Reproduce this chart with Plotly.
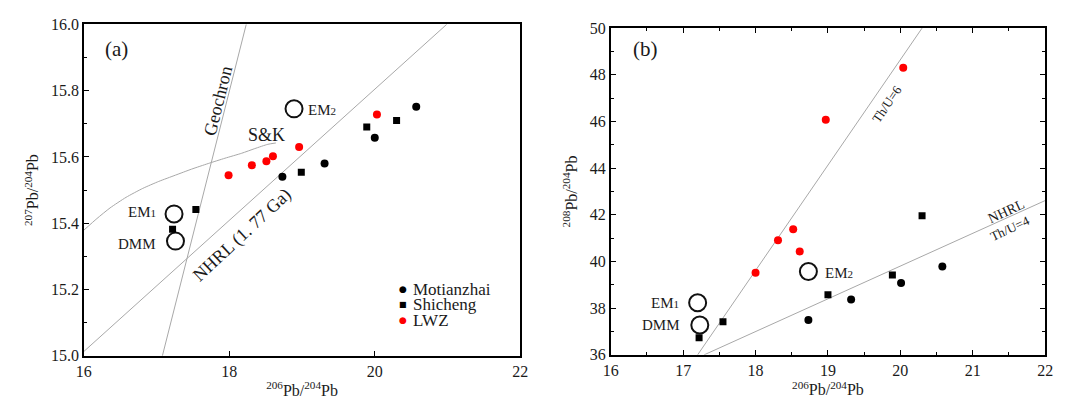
import plotly.graph_objects as go

FONT = "Liberation Serif"

# ---------------- Panel (a) data: 206Pb/204Pb vs 207Pb/204Pb ----------------
mot_x = [18.73, 19.31, 20.00, 20.57]
mot_y_a = [15.540, 15.580, 15.658, 15.751]
shi_x = [17.22, 17.54, 18.99, 19.89, 20.30]
shi_y_a = [15.382, 15.441, 15.554, 15.690, 15.710]
lwz_x = [17.99, 18.31, 18.51, 18.60, 18.96, 20.03]
lwz_y_a = [15.545, 15.575, 15.587, 15.602, 15.630, 15.728]

ref_names = ["EM1", "DMM", "EM2"]
ref_x_a = [17.24, 17.26, 18.89]
ref_y_a = [15.428, 15.346, 15.745]

geochron_x = [17.08, 18.233]
geochron_y = [15.0, 16.0]
nhrl_a_x = [16.0, 20.99]
nhrl_a_y = [15.013, 16.0]
sk_x = [16.0, 16.18, 16.36, 16.58, 16.81, 17.03, 17.26, 17.48, 17.71, 17.94, 18.17, 18.35, 18.53, 18.64]
sk_y = [15.379, 15.414, 15.446, 15.478, 15.505, 15.526, 15.545, 15.563, 15.580, 15.596, 15.611, 15.625, 15.638, 15.642]

# ---------------- Panel (b) data: 206Pb/204Pb vs 208Pb/204Pb ----------------
mot_x_b = [18.73, 19.32, 20.01, 20.58]
mot_y_b = [37.49, 38.37, 39.08, 39.78]
shi_x_b = [17.22, 17.55, 19.00, 19.89, 20.30]
shi_y_b = [36.73, 37.42, 38.57, 39.42, 41.96]
lwz_x_b = [18.00, 18.31, 18.52, 18.61, 18.97, 20.04]
lwz_y_b = [39.52, 40.91, 41.38, 40.43, 46.07, 48.30]

ref_x_b = [17.20, 17.23, 18.73]
ref_y_b = [38.23, 37.28, 39.57]

thu6_x = [17.20, 20.30]
thu6_y = [36.0, 50.0]
thu4_x = [17.29, 22.0]
thu4_y = [36.0, 42.61]

legend_names = ["Motianzhai", "Shicheng", "LWZ"]
legend_glyphs = ["●", "■", "●"]
legend_colors = ["black", "black", "#ff0000"]

fig = go.Figure()

LINE = dict(color="#a8a8a8", width=1)

# Panel (a) reference lines
fig.add_trace(go.Scatter(x=geochron_x, y=geochron_y, mode="lines", line=LINE,
                         showlegend=False, xaxis="x", yaxis="y", hoverinfo="skip"))
fig.add_trace(go.Scatter(x=nhrl_a_x, y=nhrl_a_y, mode="lines", line=LINE,
                         showlegend=False, xaxis="x", yaxis="y", hoverinfo="skip"))
fig.add_trace(go.Scatter(x=sk_x, y=sk_y, mode="lines", line=dict(LINE, shape="spline", smoothing=0.6),
                         showlegend=False, xaxis="x", yaxis="y", hoverinfo="skip"))
# Panel (b) reference lines
fig.add_trace(go.Scatter(x=thu6_x, y=thu6_y, mode="lines", line=LINE,
                         showlegend=False, xaxis="x2", yaxis="y2", hoverinfo="skip"))
fig.add_trace(go.Scatter(x=thu4_x, y=thu4_y, mode="lines", line=LINE,
                         showlegend=False, xaxis="x2", yaxis="y2", hoverinfo="skip"))

REF_MARK = dict(symbol="circle-open", size=17, color="#111111", line=dict(width=2, color="#111111"))
fig.add_trace(go.Scatter(x=ref_x_a, y=ref_y_a, mode="markers", marker=REF_MARK,
                         showlegend=False, xaxis="x", yaxis="y"))
fig.add_trace(go.Scatter(x=ref_x_b, y=ref_y_b, mode="markers", marker=REF_MARK,
                         showlegend=False, xaxis="x2", yaxis="y2"))

MOT = dict(symbol="circle", size=8, color="black")
SHI = dict(symbol="square", size=7, color="black")
LWZ = dict(symbol="circle", size=8, color="#ff0000")

fig.add_trace(go.Scatter(x=mot_x, y=mot_y_a, mode="markers", marker=MOT, name="Motianzhai",
                         showlegend=False, xaxis="x", yaxis="y"))
fig.add_trace(go.Scatter(x=shi_x, y=shi_y_a, mode="markers", marker=SHI, name="Shicheng",
                         showlegend=False, xaxis="x", yaxis="y"))
fig.add_trace(go.Scatter(x=lwz_x, y=lwz_y_a, mode="markers", marker=LWZ, name="LWZ",
                         showlegend=False, xaxis="x", yaxis="y"))
fig.add_trace(go.Scatter(x=mot_x_b, y=mot_y_b, mode="markers", marker=MOT, showlegend=False,
                         xaxis="x2", yaxis="y2"))
fig.add_trace(go.Scatter(x=shi_x_b, y=shi_y_b, mode="markers", marker=SHI, showlegend=False,
                         xaxis="x2", yaxis="y2"))
fig.add_trace(go.Scatter(x=lwz_x_b, y=lwz_y_b, mode="markers", marker=LWZ, showlegend=False,
                         xaxis="x2", yaxis="y2"))

TXT = "#1a1a1a"

def ann(x, y, text, size, xref, yref, angle=0, xanchor="center", color=TXT, family=FONT):
    return dict(x=x, y=y, text=text, xref=xref, yref=yref, showarrow=False,
                textangle=angle, xanchor=xanchor, yanchor="middle",
                font=dict(family=family, size=size, color=color))

def em(n):
    return "EM<span style='font-size:11px'>%s</span>" % n

annotations = [
    ann(16.45, 15.925, "(a)", 21, "x", "y"),
    ann(17.84, 15.77, "Geochron", 18, "x", "y", angle=-76),
    ann(18.51, 15.665, "S&K", 18, "x", "y"),
    ann(19.06, 15.74, em(2), 15, "x", "y", xanchor="left"),
    ann(17.02, 15.434, em(1), 15, "x", "y", xanchor="right"),
    ann(17.02, 15.338, "DMM", 15, "x", "y", xanchor="right"),
    ann(18.17, 15.364, "NHRL (1. 77 Ga)", 18, "x", "y", angle=-43),
    ann(16.48, 49.10, "(b)", 21, "x2", "y2"),
    ann(19.82, 46.76, "Th/U=6", 13, "x2", "y2", angle=-56),
    ann(21.46, 42.16, "NHRL", 14, "x2", "y2", angle=-25),
    ann(21.51, 41.42, "Th/U=4", 13, "x2", "y2", angle=-25),
    ann(18.93, 39.49, em(2), 15, "x2", "y2", xanchor="left"),
    ann(16.97, 38.22, em(1), 15, "x2", "y2", xanchor="right"),
    ann(16.98, 37.27, "DMM", 15, "x2", "y2", xanchor="right"),
]

# legend (panel a, lower right), placed in paper coordinates
leg_x_mark = 400.7 / 1065
leg_x_text = 409.5 / 1065
leg_rows = [293.5, 309.0, 326.0]
for name, glyph, col, row in zip(legend_names, legend_glyphs, legend_colors, leg_rows):
    yy = 1 - row / 406
    gsize = 9 if glyph == "●" else 8
    annotations.append(ann(leg_x_mark, yy, glyph, gsize, "paper", "paper", color=col,
                           family="DejaVu Sans"))
    annotations.append(ann(leg_x_text, yy, name, 17, "paper", "paper", xanchor="left"))

TICKFONT = dict(family=FONT, size=16, color=TXT)
TITLEFONT = dict(family=FONT, size=16, color=TXT)

AX = dict(showline=True, linecolor="black", linewidth=1.5, showgrid=False, zeroline=False,
          ticks="inside", ticklen=5, tickwidth=1.2, tickcolor="black",
          tickfont=TICKFONT)

X_TITLE = "<sup>206</sup>Pb/<sup>204</sup>Pb"

fig.update_layout(
    width=1065, height=406,
    margin=dict(l=0, r=0, t=0, b=0),
    paper_bgcolor="white", plot_bgcolor="white",
    font=dict(family=FONT, color=TXT, size=16),
    showlegend=False,
    xaxis=dict(AX, domain=[0.0723, 0.4883], range=[16, 22], dtick=2, tick0=16,
               mirror=True, anchor="y",
               title=dict(text=X_TITLE, standoff=6, font=TITLEFONT)),
    yaxis=dict(AX, domain=[0.1059, 0.9581], range=[15.0, 16.0], dtick=0.2, tick0=15,
               tickformat=".1f", mirror=True, anchor="x",
               minor=dict(dtick=0.1, ticklen=3, ticks="inside", tickcolor="black"),
               title=dict(text="<sup>207</sup>Pb/<sup>204</sup>Pb", standoff=8, font=TITLEFONT)),
    xaxis2=dict(AX, domain=[0.5746, 0.9887], range=[16, 22], dtick=1, tick0=16,
                mirror="ticks", anchor="y2",
                minor=dict(dtick=0.5, ticklen=3, ticks="inside", tickcolor="black"),
                title=dict(text=X_TITLE, standoff=4, font=TITLEFONT)),
    yaxis2=dict(AX, domain=[0.1084, 0.9483], range=[36, 50], dtick=2, tick0=36,
                mirror="ticks", anchor="x2",
                minor=dict(dtick=1, ticklen=3, ticks="inside", tickcolor="black"),
                title=dict(text="<sup>208</sup>Pb/<sup>204</sup>Pb", standoff=8, font=TITLEFONT)),
    annotations=annotations,
)

fig.write_html("out.html")
